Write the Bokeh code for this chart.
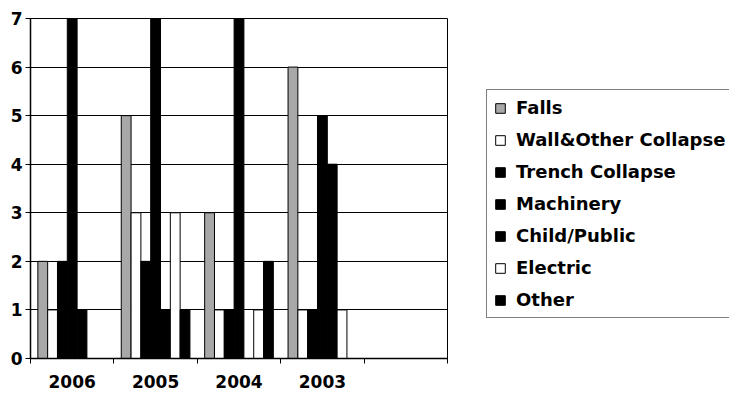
from bokeh.plotting import figure
from bokeh.models import FixedTicker, Legend, LegendItem, Range1d
from bokeh.embed import file_html
from bokeh.resources import INLINE

# ---- data ----
years = ["2006", "2005", "2004", "2003"]
series = ["Falls", "Wall&Other Collapse", "Trench Collapse", "Machinery",
          "Child/Public", "Electric", "Other"]
falls = [2, 5, 3, 6]
wall_other_collapse = [1, 3, 1, 1]
trench_collapse = [2, 2, 1, 1]
machinery = [7, 7, 7, 5]
child_public = [1, 1, 0, 4]
electric = [0, 3, 1, 1]
other = [0, 1, 2, 0]
y_ticks = [0, 1, 2, 3, 4, 5, 6, 7]
n_slots = 5  # category slots on the axis (last one empty)

values = [falls, wall_other_collapse, trench_collapse, machinery,
          child_public, electric, other]
fills = ["#a8a8a8", "white", "black", "black", "black", "white", "black"]

FONT = "DejaVu Sans"

p = figure(frame_width=417, frame_height=340,
           x_range=Range1d(0, n_slots), y_range=Range1d(0, 7),
           output_backend="svg", toolbar_location=None,
           min_border_left=30, min_border_right=282,
           min_border_top=18, min_border_bottom=38)
p.background_fill_color = "white"
p.border_fill_color = "white"
p.outline_line_color = "black"
p.outline_line_width = 1

bw = 1.0 / 8.5
items = []
for i, (name, vals, fc) in enumerate(zip(series, values, fills)):
    xs = [j + 0.5 + (i - 3) * bw for j in range(len(years))]
    r = p.vbar(x=xs, top=vals, width=bw, bottom=0,
               fill_color=fc, line_color="black", line_width=1)
    items.append(LegendItem(label=name, renderers=[r]))

# x axis: labels at slot centres, ticks at slot boundaries
p.xaxis.ticker = FixedTicker(ticks=[j + 0.5 for j in range(len(years))],
                             minor_ticks=list(range(n_slots + 1)))
p.xaxis.major_label_overrides = {j + 0.5: y for j, y in enumerate(years)}
p.xaxis.major_tick_line_color = None
p.xaxis.minor_tick_line_color = "black"
p.xaxis.minor_tick_out = 5
p.xaxis.minor_tick_in = 0
p.xaxis.major_label_standoff = 10
p.xaxis.axis_line_color = "black"
p.xaxis.axis_line_width = 1.5
p.xaxis.major_label_text_font = FONT
p.xaxis.major_label_text_font_style = "bold"
p.xaxis.major_label_text_font_size = "17px"
p.xaxis.major_label_text_color = "black"

p.yaxis.ticker = FixedTicker(ticks=y_ticks, minor_ticks=[])
p.yaxis.major_tick_out = 5
p.yaxis.major_tick_in = 0
p.yaxis.major_tick_line_color = "black"
p.yaxis.major_label_standoff = 3
p.yaxis.axis_line_color = "black"
p.yaxis.axis_line_width = 1.5
p.yaxis.major_label_text_font = FONT
p.yaxis.major_label_text_font_style = "bold"
p.yaxis.major_label_text_font_size = "17px"
p.yaxis.major_label_text_color = "black"

p.xgrid.visible = False
p.ygrid.grid_line_color = "black"
p.ygrid.grid_line_width = 1

legend = Legend(items=items, location=(39, 40))
legend.label_text_font = FONT
legend.label_text_font_style = "bold"
legend.label_text_font_size = "18px"
legend.label_text_color = "black"
legend.glyph_width = 12
legend.glyph_height = 12
legend.label_height = 20
legend.spacing = 11
legend.padding = 7
legend.margin = 0
legend.label_standoff = 10
legend.border_line_color = "black"
legend.border_line_width = 1
legend.background_fill_color = "white"
legend.background_fill_alpha = 1
p.add_layout(legend, "right")

open("out.html", "w").write(file_html(p, INLINE))
